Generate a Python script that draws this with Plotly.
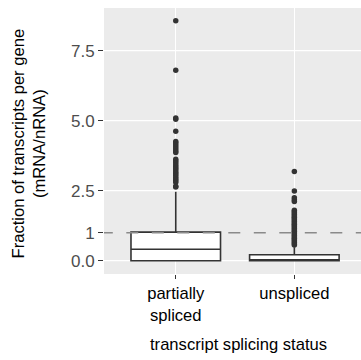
import plotly.graph_objects as go

# Splicing-status categories and summary statistics of the ratio per gene
categories = ["partially<br>spliced", "unspliced"]
q1 = [0.0, 0.0]
median = [0.41, 0.02]
q3 = [1.02, 0.21]
lower_fence = [0.0, 0.0]
upper_fence = [2.46, 0.48]

# Values beyond the whiskers
partial_outliers = [8.57, 6.80, 5.10, 5.05, 4.62, 4.26, 4.20, 4.13, 4.06, 3.99,
                    3.92, 3.86, 3.62, 3.56, 3.50, 3.43, 3.36, 3.30, 3.24, 3.17,
                    3.11, 3.05, 2.98, 2.92, 2.86, 2.80, 2.66, 2.63]
unspliced_outliers = [3.19, 2.49, 2.25, 2.18, 2.11, 1.80, 1.75, 1.70, 1.65, 1.60,
                      1.55, 1.50, 1.45, 1.40, 1.35, 1.30, 1.25, 1.20, 1.15, 1.10,
                      1.05, 1.00, 0.95, 0.90, 0.85, 0.80, 0.75, 0.70, 0.65, 0.60,
                      0.56]

y_tickvals = [0, 1, 2.5, 5, 7.5]
y_ticktext = ["0.0", "1", "2.5", "5.0", "7.5"]
grid_vals = [0, 2.5, 5, 7.5]
reference_level = 1

FONT = "Liberation Sans, Arial, Helvetica, sans-serif"
INK = "#333333"

fig = go.Figure()

fig.add_trace(go.Box(
    x=categories, q1=q1, median=median, q3=q3,
    lowerfence=lower_fence, upperfence=upper_fence,
    boxpoints=False, width=0.755, whiskerwidth=0,
    fillcolor="white", line=dict(color=INK, width=1.6),
    showlegend=False, hoverinfo="skip",
))

for cat, vals in zip(categories, [partial_outliers, unspliced_outliers]):
    fig.add_trace(go.Scatter(
        x=[cat] * len(vals), y=vals, mode="markers",
        marker=dict(size=5.5, color=INK, line=dict(width=0)),
        showlegend=False, hoverinfo="skip",
    ))

# horizontal white grid lines (no line at the reference level)
for g in grid_vals:
    fig.add_shape(type="line", xref="paper", x0=0, x1=1, yref="y", y0=g, y1=g,
                  line=dict(color="white", width=1.3), layer="below")

# dashed reference line; the first dash is clipped by the panel edge
dash_pattern = ["8.8px", "13.5px"] + ["12px", "13.5px"] * 11
fig.add_shape(type="line", xref="paper", x0=0, x1=1, yref="y",
              y0=reference_level, y1=reference_level,
              line=dict(color="#8a8a8a", width=1.4, dash=",".join(dash_pattern)),
              layer="above")

fig.update_layout(
    width=361, height=360,
    margin=dict(l=104, r=0, t=8, b=86),
    paper_bgcolor="white", plot_bgcolor="#EBEBEB",
    font=dict(family=FONT, color="black"),
    xaxis=dict(
        type="category", range=[-0.605, 1.562],
        showgrid=True, gridcolor="white", gridwidth=1.3,
        ticks="outside", ticklen=4, tickwidth=1.1, tickcolor=INK,
        tickfont=dict(size=16.6, color="black", family=FONT),
        showline=False, zeroline=False,
    ),
    yaxis=dict(
        range=[-0.475, 9.025],
        tickvals=y_tickvals, ticktext=y_ticktext,
        showgrid=False, zeroline=False, showline=False,
        ticks="outside", ticklen=5, tickwidth=1.1, tickcolor=INK,
        tickfont=dict(size=17, color="#4D4D4D", family=FONT),
    ),
    annotations=[
        dict(text="Fraction of transcripts per gene<br>(mRNA/nRNA)",
             xref="paper", yref="paper", x=(29 - 104) / 257, y=(274 - 143.5) / 266,
             xanchor="center", yanchor="middle", textangle=-90,
             showarrow=False, font=dict(size=16.6, color="black", family=FONT)),
        dict(text="transcript splicing status",
             xref="paper", yref="paper", x=(238 - 104) / 257, y=-(344 - 274) / 266,
             xanchor="center", yanchor="middle",
             showarrow=False, font=dict(size=16.6, color="black", family=FONT)),
    ],
)

fig.write_html("out.html")
